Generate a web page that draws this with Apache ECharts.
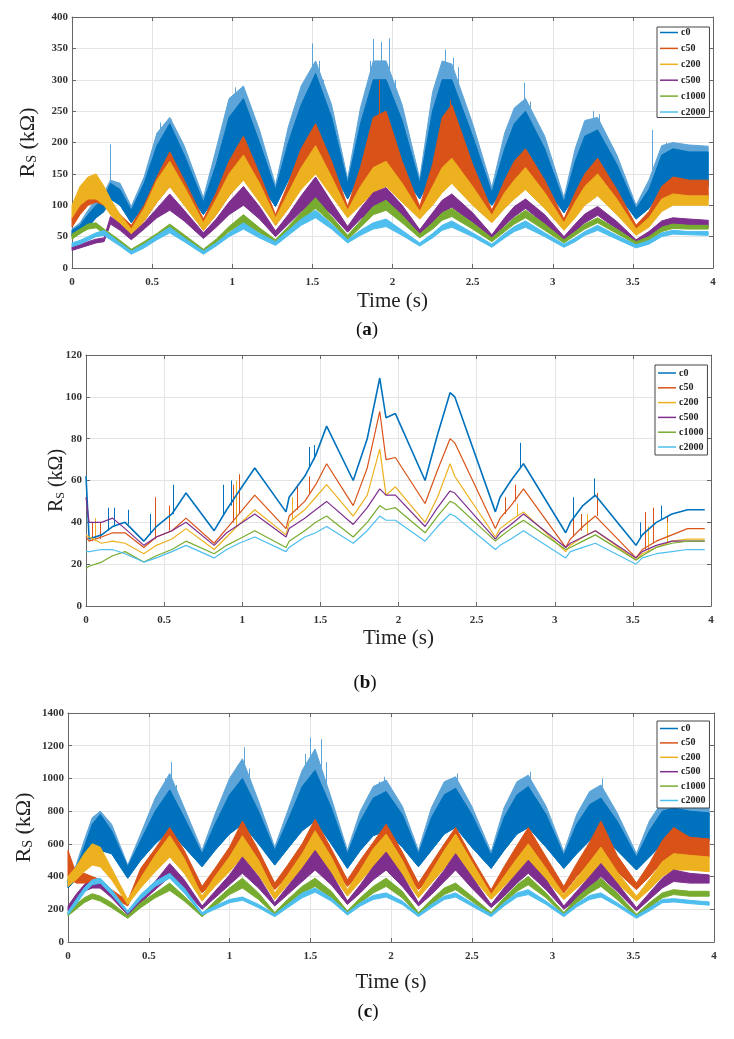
<!DOCTYPE html>
<html>
<head>
<meta charset="utf-8">
<script src="https://cdn.jsdelivr.net/npm/echarts@6/dist/echarts.min.js"></script>
<style>
  html, body { margin: 0; background: #fff; }
  #chart { width: 734px; height: 1039px; }
</style>
</head>
<body>
<div id="chart"></div>
<script>
// series names + MATLAB default colours
const NAMES = ['c0', 'c50', 'c200', 'c500', 'c1000', 'c2000'];
const COLORS = ['#0072BD', '#D95319', '#EDB120', '#7E2F8E', '#77AC30', '#4DBEEE'];
const HALO = '#5DA5D9';
const FONT = 'Liberation Serif';

// ---- panel (a): noisy bands, lower / upper envelope
const tA = [0, 0.05, 0.1, 0.15, 0.2, 0.24, 0.3, 0.37,
  0.45, 0.53, 0.61, 0.7, 0.82, 0.9, 0.98, 1.07,
  1.17, 1.27, 1.35, 1.43, 1.52, 1.62, 1.72, 1.8,
  1.88, 1.96, 2.06, 2.17, 2.25, 2.31, 2.37, 2.5,
  2.62, 2.7, 2.76, 2.83, 2.95, 3.07, 3.14, 3.2,
  3.28, 3.4, 3.52, 3.6, 3.68, 3.75, 3.85, 3.97];
const a_c0_lo = [50, 55, 65, 80, 90, 110, 100, 72,
  100, 130, 160, 130, 85, 115, 150, 170,
  135, 98, 140, 170, 200, 160, 110, 150,
  190, 175, 150, 110, 150, 180, 175, 135,
  100, 130, 150, 165, 130, 88, 115, 140,
  155, 120, 78, 95, 125, 130, 130, 130];
const a_c0_hi = [60, 68, 85, 100, 110, 135, 125, 92,
  135, 195, 230, 180, 105, 165, 240, 270,
  200, 125, 200, 260, 310, 240, 135, 230,
  300, 300, 235, 135, 250, 300, 300, 210,
  120, 190, 230, 250, 190, 105, 170, 210,
  220, 165, 95, 125, 180, 190, 185, 185];
// light-blue noise envelope above the c0 core
const a_c0_top = [62, 72, 92, 110, 120, 140, 135, 98,
  145, 215, 240, 195, 112, 190, 270, 290,
  220, 132, 225, 290, 330, 260, 142, 255,
  330, 330, 260, 142, 280, 330, 325, 230,
  128, 215, 255, 270, 210, 112, 190, 235,
  240, 180, 100, 140, 195, 200, 196, 194];
const a_c50_lo = [65, 85, 100, 105, 100, 90, 70, 52,
  75, 105, 130, 105, 60, 85, 115, 145,
  110, 68, 95, 130, 160, 125, 82, 110,
  145, 150, 120, 82, 115, 145, 160, 115,
  75, 100, 120, 140, 105, 62, 85, 105,
  125, 95, 55, 70, 100, 115, 112, 110];
const a_c50_hi = [80, 105, 120, 125, 115, 105, 85, 68,
  100, 145, 185, 140, 78, 120, 170, 210,
  150, 85, 135, 190, 230, 170, 98, 160,
  240, 250, 170, 98, 165, 240, 260, 165,
  92, 140, 170, 190, 140, 78, 120, 150,
  175, 125, 68, 90, 130, 145, 140, 140];
const a_c200_lo = [80, 100, 110, 110, 100, 85, 68, 50,
  75, 105, 130, 100, 60, 85, 115, 140,
  105, 68, 95, 125, 150, 115, 80, 100,
  120, 130, 105, 78, 100, 120, 135, 100,
  72, 95, 110, 125, 95, 60, 80, 100,
  115, 85, 52, 65, 90, 100, 100, 100];
const a_c200_hi = [100, 130, 145, 150, 130, 110, 85, 62,
  95, 140, 170, 130, 72, 110, 150, 180,
  135, 80, 120, 160, 195, 145, 92, 130,
  160, 170, 135, 90, 130, 160, 175, 130,
  84, 120, 140, 160, 120, 72, 105, 130,
  150, 110, 62, 80, 110, 118, 115, 115];
const a_c500_lo = [28, 32, 36, 40, 42, 70, 60, 45,
  62, 80, 92, 75, 47, 65, 85, 100,
  78, 50, 70, 90, 108, 85, 57, 78,
  95, 100, 80, 52, 70, 88, 97, 72,
  45, 68, 82, 95, 70, 42, 58, 72,
  84, 62, 38, 48, 62, 68, 66, 65];
const a_c500_hi = [34, 37, 42, 46, 48, 82, 70, 53,
  72, 95, 118, 92, 56, 78, 105, 130,
  98, 59, 85, 115, 145, 105, 66, 95,
  120, 128, 100, 61, 88, 108, 118, 88,
  53, 80, 98, 110, 85, 50, 70, 86,
  98, 74, 45, 58, 75, 80, 78, 76];
const a_c1000_lo = [46, 55, 62, 64, 55, 48, 38, 25,
  35, 48, 58, 45, 25, 40, 58, 72,
  56, 40, 58, 76, 95, 72, 45, 65,
  85, 92, 72, 48, 62, 76, 82, 62,
  42, 58, 70, 80, 60, 40, 52, 62,
  72, 55, 38, 44, 58, 63, 62, 62];
const a_c1000_hi = [54, 62, 70, 72, 62, 55, 44, 30,
  42, 55, 70, 53, 30, 46, 66, 85,
  64, 45, 66, 88, 112, 82, 52, 75,
  98, 108, 84, 54, 72, 88, 95, 72,
  48, 66, 80, 92, 70, 45, 58, 70,
  80, 62, 42, 50, 65, 70, 68, 68];
const a_c2000_lo = [34, 38, 44, 50, 52, 45, 35, 22,
  32, 45, 56, 42, 22, 35, 50, 62,
  48, 36, 52, 68, 80, 62, 40, 52,
  62, 66, 52, 35, 48, 60, 65, 50,
  33, 48, 58, 65, 50, 33, 42, 52,
  60, 46, 32, 38, 50, 54, 53, 52];
const a_c2000_hi = [40, 44, 50, 56, 60, 52, 40, 27,
  38, 52, 65, 48, 27, 40, 56, 72,
  55, 42, 60, 78, 92, 70, 45, 60,
  72, 78, 60, 40, 55, 68, 75, 56,
  38, 55, 66, 75, 56, 38, 48, 58,
  68, 52, 37, 44, 56, 60, 58, 58];
// isolated spikes [t, from, to]
const a_c0_spikes = [[0.24, 110, 197], [0.55, 160, 232], [0.59, 180, 225], [0.62, 190, 237], [1.02, 190, 288],
  [1.05, 200, 270], [1.08, 200, 262], [1.12, 190, 250], [1.47, 220, 300], [1.5, 250, 358], [1.54, 240, 330],
  [1.57, 220, 300], [1.86, 220, 330], [1.88, 220, 365], [1.93, 230, 360], [1.98, 220, 366], [2.02, 210, 300],
  [2.29, 200, 310], [2.33, 200, 348], [2.38, 220, 335], [2.41, 210, 320], [2.79, 190, 260], [2.82, 200, 295],
  [2.86, 190, 265], [3.22, 170, 235], [3.25, 180, 250], [3.29, 170, 245], [3.62, 110, 220],
  [3.71, 150, 200], [3.79, 150, 196], [3.86, 150, 196], [3.93, 150, 192]];
const a_c50_spikes = [[1.92, 200, 300], [2.36, 200, 268]];

// ---- panel (b): thin lines
const tB = [0, 0.02, 0.1, 0.17, 0.25, 0.37, 0.45, 0.55,
  0.64, 0.82, 0.9, 0.98, 1.08, 1.28, 1.3, 1.4,
  1.47, 1.54, 1.71, 1.8, 1.88, 1.92, 1.98, 2.17,
  2.25, 2.33, 2.36, 2.62, 2.65, 2.72, 2.8, 3.07,
  3.1, 3.18, 3.26, 3.52, 3.56, 3.65, 3.75, 3.85,
  3.96];
const b_c0 = [62, 32, 34, 38, 40, 31, 38, 44,
  54, 36, 46, 55, 66, 45, 52, 62,
  72, 86, 60, 80, 109, 90, 92, 60,
  82, 102, 100, 45, 52, 60, 68, 35,
  40, 48, 53, 29, 34, 40, 44, 46,
  46];
const b_c50 = [33, 31, 33, 35, 35, 28, 33, 36,
  42, 30, 37, 44, 53, 37, 43, 50,
  58, 68, 48, 66, 93, 70, 71, 49,
  65, 80, 78, 37, 42, 48, 56, 28,
  32, 38, 43, 23, 27, 31, 34, 37,
  37];
const b_c200 = [34, 33, 30, 31, 30, 25, 29, 32,
  37, 27, 33, 39, 46, 34, 40, 46,
  52, 58, 43, 53, 75, 53, 57, 40,
  52, 68, 62, 33, 37, 41, 45, 26,
  29, 33, 36, 22, 25, 28, 31, 32,
  32];
const b_c500 = [52, 40, 40, 42, 37, 29, 33, 36,
  40, 29, 35, 39, 44, 33, 37, 42,
  46, 50, 39, 47, 56, 53, 53, 38,
  47, 55, 54, 32, 35, 39, 44, 28,
  30, 33, 36, 23, 26, 29, 31, 31,
  31];
const b_c1000 = [18, 19, 21, 24, 26, 21, 24, 27,
  31, 25, 29, 32, 36, 28, 31, 36,
  40, 43, 33, 40, 48, 46, 47, 35,
  43, 50, 49, 31, 33, 37, 41, 27,
  28, 31, 34, 22, 24, 28, 30, 31,
  31];
const b_c2000 = [26, 26, 27, 27, 25, 21, 23, 26,
  29, 23, 27, 30, 33, 26, 28, 33,
  35, 38, 30, 36, 43, 41, 41, 31,
  38, 44, 43, 27, 29, 32, 36, 23,
  26, 28, 30, 20, 23, 25, 26, 27,
  27];
const b_c0_spikes = [[0.14, 36, 47], [0.18, 38, 47], [0.27, 39, 46], [0.41, 34, 44], [0.56, 44, 58], [0.88, 44, 58],
  [0.93, 48, 60], [1.43, 66, 76], [1.46, 70, 77], [2.78, 66, 78], [3.12, 42, 52], [3.25, 52, 61], [3.55, 32, 40], [3.68, 41, 48]];
const b_c50_spikes = [[0.04, 31, 40], [0.09, 32, 40], [0.44, 32, 52], [0.53, 36, 48], [0.94, 40, 58], [0.98, 44, 63],
  [1.35, 46, 58], [1.43, 54, 62], [2.68, 44, 52], [2.75, 50, 58], [3.12, 33, 42], [3.17, 36, 44], [3.27, 43, 54],
  [3.58, 27, 45], [3.63, 30, 47], [3.72, 34, 43]];
const b_c200_spikes = [[0.06, 31, 42], [0.96, 38, 60], [1.32, 41, 52], [2.76, 43, 49], [3.21, 34, 44], [3.6, 26, 38], [3.72, 30, 40]];

// ---- panel (c): noisy bands
const tC = [0, 0.05, 0.1, 0.15, 0.2, 0.27, 0.37, 0.45,
  0.54, 0.63, 0.72, 0.83, 0.91, 1.0, 1.08, 1.18,
  1.28, 1.36, 1.45, 1.53, 1.63, 1.73, 1.81, 1.89,
  1.97, 2.07, 2.17, 2.25, 2.33, 2.4, 2.5, 2.62,
  2.7, 2.78, 2.85, 2.96, 3.07, 3.15, 3.23, 3.3,
  3.4, 3.52, 3.6, 3.68, 3.75, 3.85, 3.97];
const c_c0_lo = [330, 380, 450, 520, 560, 540, 390, 500,
  600, 680, 580, 460, 560, 660, 720, 600,
  470, 570, 680, 740, 600, 450, 560, 650,
  680, 580, 460, 560, 660, 700, 580, 450,
  560, 660, 700, 580, 450, 540, 620, 660,
  560, 440, 520, 600, 620, 620, 620];
const c_c0_hi = [380, 450, 580, 720, 780, 680, 460, 620,
  800, 930, 760, 540, 720, 900, 1000, 800,
  560, 740, 950, 1050, 820, 540, 740, 880,
  920, 780, 540, 760, 900, 940, 780, 530,
  760, 900, 950, 780, 530, 720, 840, 880,
  740, 520, 680, 800, 820, 800, 790];
const c_c0_top = [390, 470, 620, 760, 800, 720, 470, 660,
  880, 1030, 820, 560, 780, 1000, 1120, 860,
  580, 800, 1050, 1180, 880, 560, 800, 950,
  990, 830, 560, 820, 980, 1010, 830, 550,
  820, 980, 1020, 830, 550, 780, 920, 960,
  790, 540, 740, 860, 880, 860, 840];
const c_c50_lo = [400, 360, 360, 350, 330, 280, 220, 380,
  470, 560, 460, 300, 380, 470, 560, 450,
  320, 400, 490, 570, 470, 340, 420, 490,
  530, 450, 320, 400, 470, 520, 430, 280,
  380, 470, 540, 430, 300, 400, 480, 560,
  430, 320, 400, 490, 540, 520, 520];
const c_c50_hi = [560, 420, 420, 400, 380, 320, 250, 450,
  570, 700, 560, 340, 450, 580, 740, 560,
  360, 470, 600, 750, 570, 380, 500, 610,
  720, 550, 360, 480, 600, 700, 520, 320,
  460, 590, 700, 520, 340, 480, 610, 740,
  530, 360, 480, 620, 700, 640, 630];
const c_c200_lo = [340, 380, 430, 470, 460, 380, 230, 330,
  430, 520, 420, 250, 340, 430, 520, 410,
  260, 350, 440, 530, 420, 280, 370, 460,
  520, 410, 270, 360, 450, 520, 400, 260,
  340, 420, 480, 380, 260, 330, 400, 460,
  360, 250, 320, 400, 440, 440, 430];
const c_c200_hi = [400, 460, 540, 600, 580, 450, 260, 390,
  530, 650, 510, 280, 400, 520, 650, 500,
  300, 410, 540, 680, 520, 320, 440, 570,
  660, 500, 300, 430, 560, 660, 490, 290,
  400, 510, 600, 450, 290, 390, 490, 580,
  430, 280, 380, 490, 540, 530, 520];
const c_c500_lo = [190, 250, 310, 330, 330, 270, 165, 240,
  320, 400, 320, 200, 270, 350, 420, 330,
  220, 290, 370, 440, 350, 230, 300, 380,
  440, 340, 220, 290, 370, 440, 330, 210,
  280, 360, 420, 320, 200, 260, 330, 400,
  310, 190, 260, 330, 370, 360, 360];
const c_c500_hi = [220, 290, 350, 370, 370, 300, 185, 280,
  370, 480, 380, 220, 310, 410, 520, 400,
  240, 340, 450, 560, 420, 250, 350, 460,
  550, 410, 240, 340, 440, 540, 400, 230,
  330, 420, 500, 380, 220, 310, 400, 480,
  360, 210, 300, 390, 440, 420, 410];
const c_c1000_lo = [160, 200, 240, 265, 250, 210, 145, 210,
  270, 315, 250, 155, 220, 290, 330, 260,
  165, 230, 300, 340, 270, 175, 240, 300,
  340, 270, 165, 230, 290, 320, 250, 165,
  240, 310, 350, 270, 165, 240, 300, 340,
  260, 155, 210, 270, 290, 280, 280];
const c_c1000_hi = [180, 230, 270, 295, 280, 240, 160, 240,
  300, 360, 280, 170, 250, 330, 390, 300,
  180, 260, 340, 390, 310, 190, 270, 340,
  390, 310, 180, 260, 330, 360, 280, 180,
  270, 350, 400, 300, 180, 270, 340, 390,
  300, 170, 240, 300, 320, 310, 310];
const c_c2000_lo = [165, 230, 300, 350, 360, 290, 175, 260,
  340, 390, 300, 165, 200, 240, 255, 210,
  155, 210, 270, 305, 250, 165, 220, 260,
  275, 230, 155, 210, 260, 275, 220, 155,
  220, 275, 290, 230, 155, 215, 260, 275,
  220, 145, 190, 240, 245, 235, 225];
const c_c2000_hi = [185, 260, 330, 380, 390, 320, 190, 290,
  370, 420, 330, 180, 220, 260, 275, 230,
  170, 230, 300, 330, 270, 180, 240, 285,
  300, 250, 170, 230, 280, 300, 240, 170,
  240, 300, 320, 250, 170, 235, 285, 300,
  240, 160, 210, 260, 265, 255, 245];
const c_c0_spikes = [[0.19, 700, 795], [0.6, 850, 1000], [0.64, 850, 1100], [0.67, 820, 960], [1.05, 900, 1080],
  [1.09, 900, 1190], [1.12, 880, 1060], [1.47, 950, 1150], [1.5, 950, 1250], [1.57, 950, 1240], [1.6, 900, 1100],
  [1.93, 850, 980], [1.96, 850, 1010], [2.37, 880, 990], [2.41, 900, 1030], [2.82, 880, 990], [2.86, 900, 1040],
  [3.27, 840, 940], [3.31, 860, 1000], [3.78, 750, 900]];

// ---- axes ticks
const yMax = [400, 120, 1400];
const yStep = [50, 20, 200];

// layout
const GRIDS = [
  { left: 72, top: 17, width: 641, height: 251 },
  { left: 86, top: 355, width: 625, height: 251 },
  { left: 68, top: 713, width: 646, height: 229 }
];

function pairs(t, v) {
  return t.map((x, i) => [x, v[i]]);
}

// filled band between lower and upper envelope, one polygon through the axis scales
function band(g, name, color, t, lo, hi) {
  return {
    type: 'custom', name, xAxisIndex: g, yAxisIndex: g, silent: true,
    itemStyle: { color },
    data: t.map((x, i) => [x, lo[i], hi[i]]),
    encode: { x: 0, y: [1, 2] },
    renderItem: (params, api) => {
      if (params.dataIndexInside !== 0) return null;
      const n = params.dataInsideLength;
      const top = [];
      const bot = [];
      for (let j = 0; j < n; j++) {
        top.push(api.coord([api.value(0, j), api.value(2, j)]));
        bot.push(api.coord([api.value(0, j), api.value(1, j)]));
      }
      return {
        type: 'polygon',
        shape: { points: top.concat(bot.reverse()) },
        style: { fill: color, stroke: color, lineWidth: 1 }
      };
    }
  };
}

function spikes(g, color, list, width) {
  return {
    type: 'lines', coordinateSystem: 'cartesian2d', xAxisIndex: g, yAxisIndex: g, silent: true,
    data: list.map(s => ({ coords: [[s[0], s[1]], [s[0], s[2]]] })),
    lineStyle: { color, width: width || 1, opacity: 1 }
  };
}

const bandsA = [[a_c0_lo, a_c0_hi], [a_c50_lo, a_c50_hi], [a_c200_lo, a_c200_hi],
  [a_c500_lo, a_c500_hi], [a_c1000_lo, a_c1000_hi], [a_c2000_lo, a_c2000_hi]];
const bandsC = [[c_c0_lo, c_c0_hi], [c_c50_lo, c_c50_hi], [c_c200_lo, c_c200_hi],
  [c_c500_lo, c_c500_hi], [c_c1000_lo, c_c1000_hi], [c_c2000_lo, c_c2000_hi]];
const linesB = [b_c0, b_c50, b_c200, b_c500, b_c1000, b_c2000];

const series = [];
// (a)
series.push(band(0, 'c0 noise', HALO, tA, a_c0_lo, a_c0_top));
series.push(spikes(0, HALO, a_c0_spikes, 1));
bandsA.forEach((b, k) => {
  series.push(band(0, NAMES[k], COLORS[k], tA, b[0], b[1]));
  if (k === 1) series.push(spikes(0, COLORS[1], a_c50_spikes, 1));
});
// (b)
linesB.forEach((v, k) => {
  series.push({
    type: 'line', name: NAMES[k], xAxisIndex: 1, yAxisIndex: 1, symbol: 'none',
    data: pairs(tB, v), lineStyle: { color: COLORS[k], width: k === 0 ? 1.6 : 1.2 }, itemStyle: { color: COLORS[k] }
  });
  if (k === 0) series.push(spikes(1, COLORS[0], b_c0_spikes));
  if (k === 1) series.push(spikes(1, COLORS[1], b_c50_spikes));
  if (k === 2) series.push(spikes(1, COLORS[2], b_c200_spikes));
});
// (c)
series.push(band(2, 'c0 noise', HALO, tC, c_c0_lo, c_c0_top));
series.push(spikes(2, HALO, c_c0_spikes, 1));
bandsC.forEach((b, k) => {
  series.push(band(2, NAMES[k], COLORS[k], tC, b[0], b[1]));
});

const AXIS_COLOR = '#666';
const tickLabel = { fontFamily: FONT, fontWeight: 'bold', fontSize: 11, color: '#333', formatter: v => String(v) };
const xNameGap = [23, 22, 30];
const yNameGap = [33, 19, 33];
const yNameSize = [22, 20, 22];

const xAxis = [];
const yAxis = [];
GRIDS.forEach((g, i) => {
  xAxis.push({
    type: 'value', gridIndex: i, min: 0, max: 4, interval: 0.5, position: 'bottom',
    axisLine: { show: true, onZero: false, lineStyle: { color: AXIS_COLOR } },
    axisTick: { show: true, inside: true, length: 4, lineStyle: { color: AXIS_COLOR } },
    axisLabel: Object.assign({ margin: 9 }, tickLabel),
    splitLine: { show: true, lineStyle: { color: '#e4e4e4' } },
    name: 'Time (s)', nameLocation: 'middle', nameGap: xNameGap[i], nameMoveOverlap: false,
    nameTextStyle: { fontFamily: FONT, fontSize: 21, color: '#222' }
  });
  yAxis.push({
    type: 'value', gridIndex: i, min: 0, max: yMax[i], interval: yStep[i], position: 'left',
    axisLine: { show: true, onZero: false, lineStyle: { color: AXIS_COLOR } },
    axisTick: { show: true, inside: true, length: 4, lineStyle: { color: AXIS_COLOR } },
    axisLabel: Object.assign({ margin: 4 }, tickLabel),
    splitLine: { show: true, lineStyle: { color: '#e4e4e4' } },
    name: 'R{s|S} (kΩ)', nameLocation: 'middle', nameRotate: 90, nameGap: yNameGap[i], nameMoveOverlap: false,
    nameTextStyle: {
      fontFamily: FONT, fontSize: yNameSize[i], color: '#222',
      rich: { s: { fontFamily: FONT, fontSize: Math.round(yNameSize[i] * 0.62), color: '#222', verticalAlign: 'bottom' } }
    }
  });
});
// MATLAB box: top / right axes with inner ticks only
GRIDS.forEach((g, i) => {
  xAxis.push({
    type: 'value', gridIndex: i, min: 0, max: 4, interval: 0.5, position: 'top',
    axisLine: { show: true, onZero: false, lineStyle: { color: AXIS_COLOR } },
    axisTick: { show: true, inside: true, length: 4, lineStyle: { color: AXIS_COLOR } },
    axisLabel: { show: false }, splitLine: { show: false }
  });
  yAxis.push({
    type: 'value', gridIndex: i, min: 0, max: yMax[i], interval: yStep[i], position: 'right',
    axisLine: { show: true, onZero: false, lineStyle: { color: AXIS_COLOR } },
    axisTick: { show: true, inside: true, length: 4, lineStyle: { color: AXIS_COLOR } },
    axisLabel: { show: false }, splitLine: { show: false }
  });
});

const legendPos = [
  { left: 657, top: 27, itemGap: 4.9, padding: [0, 4, 0, 3] },
  { left: 655, top: 365, itemGap: 3.8, padding: [2.5, 4, 2.5, 3] },
  { left: 657, top: 721, itemGap: 3.4, padding: [2, 4, 2, 3] }
];
const legend = legendPos.map(p => ({
  data: NAMES, orient: 'vertical', left: p.left, top: p.top, itemGap: p.itemGap, padding: p.padding,
  icon: 'rect', itemWidth: 18, itemHeight: 1.5, backgroundColor: '#fff',
  borderColor: '#444', borderWidth: 1, borderRadius: 0, selectedMode: false,
  textStyle: { fontFamily: FONT, fontWeight: 'bold', fontSize: 10, lineHeight: 11, color: '#222', padding: [0, 0, 0, -2] }
}));

const captions = [['a', 367, 330], ['b', 365, 683], ['c', 368, 1012]];
const graphic = captions.map(c => ({
  type: 'text', x: c[1], y: c[2], z: 100,
  style: {
    text: '({b|' + c[0] + '})', align: 'center', verticalAlign: 'middle',
    fontFamily: FONT, fontSize: 19, fill: '#111',
    rich: { b: { fontFamily: FONT, fontSize: 19, fontWeight: 'bold', fill: '#111' } }
  }
}));

const chart = echarts.init(document.getElementById('chart'), null, { renderer: 'canvas' });
chart.setOption({
  animation: false,
  backgroundColor: '#fff',
  grid: GRIDS.map(g => Object.assign({ containLabel: false }, g)),
  xAxis, yAxis, legend, graphic, series
});
</script>
</body>
</html>
